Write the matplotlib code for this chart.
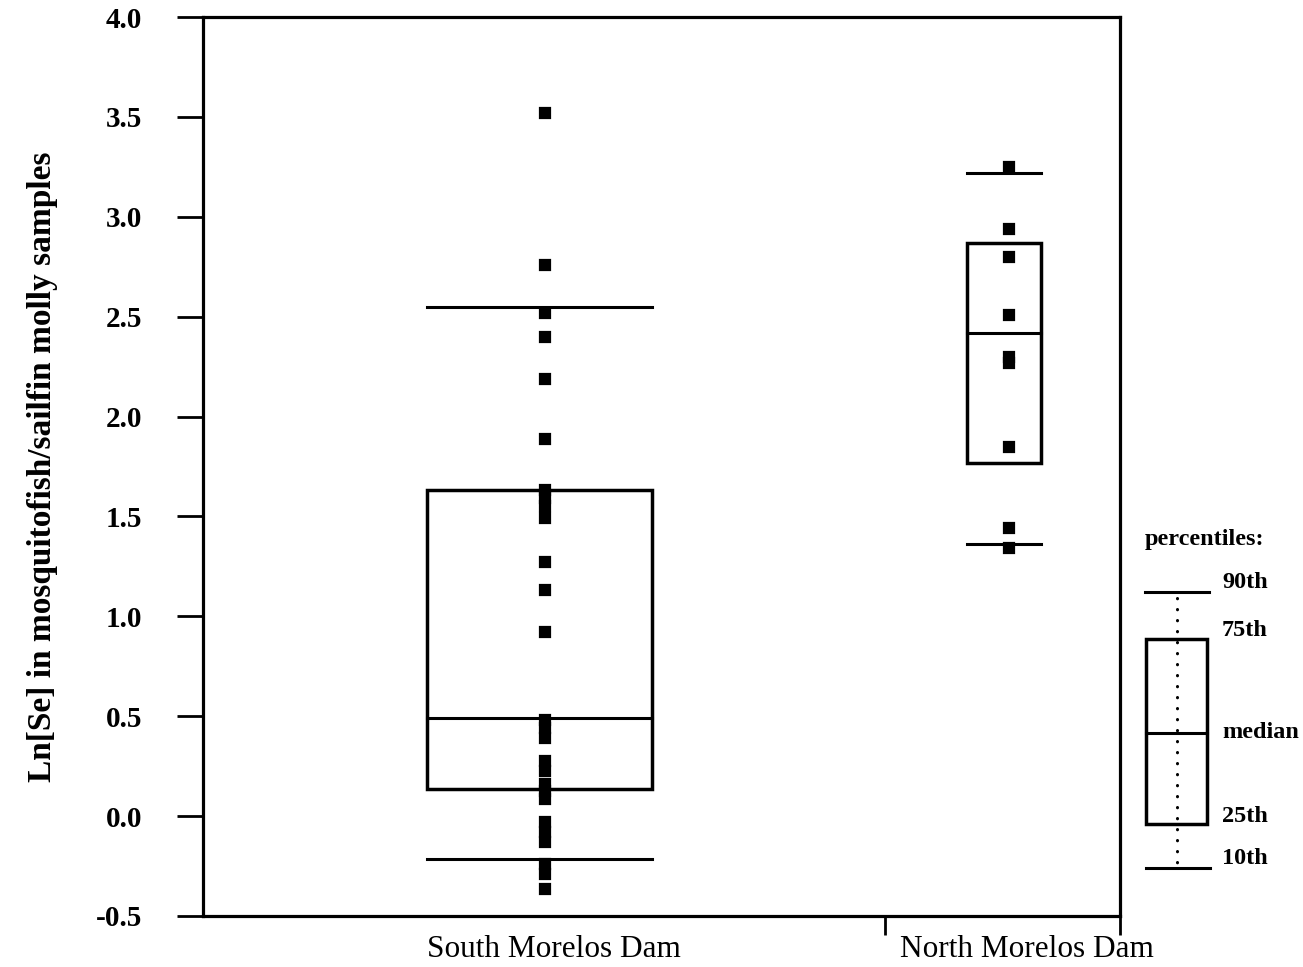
import matplotlib
matplotlib.use("Agg")
import matplotlib.pyplot as plt
from matplotlib.patches import Rectangle
from matplotlib.transforms import blended_transform_factory

# ---------------- data ----------------
categories = ["South Morelos Dam", "North Morelos Dam"]

south_points = [3.52, 2.76, 2.52, 2.40, 2.19, 1.89, 1.63, 1.59, 1.55, 1.49,
                1.27, 1.13, 0.92, 0.48, 0.44, 0.39, 0.275, 0.225, 0.16,
                0.125, 0.085, -0.03, -0.08, -0.13, -0.24, -0.29, -0.365]
north_points = [3.25, 2.94, 2.80, 2.51, 2.30, 2.27, 1.85, 1.44, 1.34]

# percentiles: 10th, 25th, median, 75th, 90th
south_pct = [-0.215, 0.135, 0.49, 1.63, 2.55]
north_pct = [1.36, 1.77, 2.42, 2.87, 3.22]

yticks = [-0.5, 0.0, 0.5, 1.0, 1.5, 2.0, 2.5, 3.0, 3.5, 4.0]
ytick_labels = ["-0.5", "0.0", "0.5", "1.0", "1.5", "2.0", "2.5", "3.0", "3.5", "4.0"]
ylabel = "Ln[Se] in mosquitofish/sailfin molly samples"
legend_title = "percentiles:"
legend_labels = ["90th", "75th", "median", "25th", "10th"]

# ---------------- layout ----------------
SERIF = ["Liberation Serif", "DejaVu Serif"]
W, H = 1303, 967
fig = plt.figure(figsize=(W / 100, H / 100), dpi=100)
ax = fig.add_axes([203 / W, 1 - 916 / H, (1120 - 203) / W, (916 - 17) / H])

positions = [1.0, 2.0]
widths = [0.485, 0.16]
label_x = [1.03, 2.05]
LW = 2.2

ax.set_xlim(0.274, 2.25)
ax.set_ylim(-0.5, 4.0)

for pos, w, pct, pts in zip(positions, widths, [south_pct, north_pct],
                            [south_points, north_points]):
    p10, p25, med, p75, p90 = pct
    ax.add_patch(Rectangle((pos - w / 2, p25), w, p75 - p25, fill=False,
                           lw=LW + 0.3, ec="black", zorder=2))
    ax.plot([pos - w / 2, pos + w / 2], [med, med], color="black", lw=LW, zorder=2)
    ax.plot([pos - w / 2, pos + w / 2], [p90, p90], color="black", lw=LW, zorder=2)
    ax.plot([pos - w / 2, pos + w / 2], [p10, p10], color="black", lw=LW, zorder=2)
    ax.plot([pos + 0.01] * len(pts), pts, ls="none", marker="s", ms=7.0,
            color="black", mew=1.6, mec="black", zorder=3)

for s in ax.spines.values():
    s.set_linewidth(2.3)

ax.set_yticks(yticks)
ax.set_yticklabels(ytick_labels, fontsize=21, fontweight="bold", family=SERIF)
ax.tick_params(axis="y", direction="out", length=19, width=2.0, pad=25)
ax.set_xticks([1.744, 2.25])
ax.set_xticklabels([])
ax.tick_params(axis="x", direction="out", length=14, width=2.0)

ax.set_ylabel(ylabel, fontsize=24, fontweight="bold", family=SERIF, labelpad=27)

trans = blended_transform_factory(ax.transData, ax.transAxes)
for x, lab in zip(label_x, categories):
    ax.text(x, -0.021, lab, transform=trans, ha="center", va="top",
            fontsize=22.5, family=SERIF)

# ---------------- percentile key (pixel coordinates) ----------------
kax = fig.add_axes([0, 0, 1, 1], facecolor="none")
kax.set_xlim(0, W)
kax.set_ylim(H, 0)
kax.axis("off")

kax.plot([1145, 1209], [592, 592], color="black", lw=LW)
kax.add_patch(Rectangle((1146, 639), 61, 185, fill=False, lw=LW + 0.3, ec="black"))
kax.plot([1146, 1207], [733, 733], color="black", lw=LW)
kax.plot([1146, 1210], [868, 868], color="black", lw=LW)
kax.plot([1177, 1177], [598, 864], color="black", lw=2.2,
         linestyle=(0, (0.1, 3.5)), dash_capstyle="round")

kax.text(1145, 540, legend_title, fontsize=17.5, fontweight="bold", family=SERIF,
         ha="left", va="center")
for lab, yy in zip(legend_labels, [583, 630, 733, 817, 859]):
    kax.text(1222, yy, lab, fontsize=17.5, fontweight="bold", family=SERIF,
             ha="left", va="center")

fig.savefig("out.png", dpi=100)
